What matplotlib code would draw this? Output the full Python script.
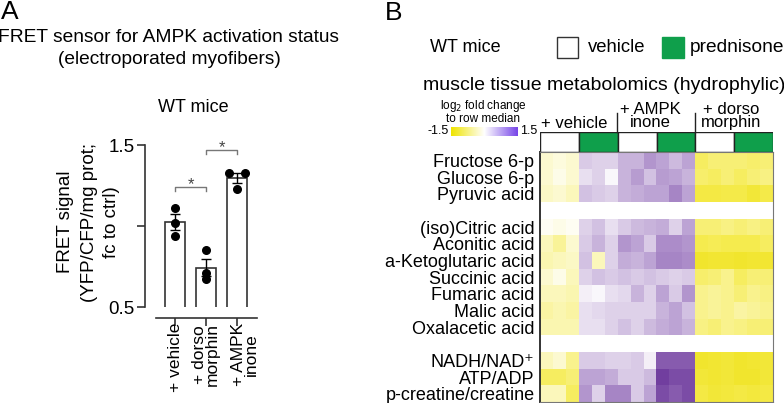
import numpy as np
import matplotlib.pyplot as plt
from matplotlib.colors import LinearSegmentedColormap
from matplotlib.patches import Rectangle
from matplotlib.lines import Line2D

plt.rcParams['font.family'] = ['Liberation Sans', 'DejaVu Sans']

W, H = 784, 403

# ---- panel A data ----
conditions = ['+ vehicle', '+ dorso\nmorphin', '+ AMPK\ninone']
fret_vehicle = [1.11, 1.02, 0.94]
fret_dorso = [0.85, 0.71, 0.67]
fret_ampk = [1.33, 1.33, 1.23]
jitter = [[0, 0, 0], [0, 0, 0], [-0.25, 0.25, 0.0]]
ylabel_lines = ['FRET signal', '(YFP/CFP/mg prot;', 'fc to ctrl)']

# ---- panel B data ----
groups = ['+ vehicle', '+ AMPK\ninone', '+ dorso\nmorphin']
treatments = ['vehicle', 'prednisone']
glyco_names = ['Fructose 6-p', 'Glucose 6-p', 'Pyruvic acid']
tca_names = ['(iso)Citric acid', 'Aconitic acid', 'a-Ketoglutaric acid', 'Succinic acid',
             'Fumaric acid', 'Malic acid', 'Oxalacetic acid']
energy_names = ['NADH/NAD\u207a', 'ATP/ADP', 'p-creatine/creatine']

glyco_vals = [
    [-0.2, -0.15, -0.2, 0.35, 0.3, 0.3, 0.5, 0.5, 0.7, 0.6, 0.45, 0.6, -0.7, -0.6, -0.6, -0.6, -0.65, -0.6],
    [-0.2, -0.1, -0.2, 0.2, 0.3, 0.05, 0.5, 0.65, 0.4, 0.65, 0.6, 0.5, -0.65, -0.7, -0.6, -0.7, -0.6, -0.55],
    [-0.25, -0.2, -0.3, 0.4, 0.35, 0.3, 0.5, 0.55, 0.6, 0.6, 0.8, 0.6, -0.9, -0.9, -0.85, -0.85, -1.0, -0.85],
]
tca_vals = [
    [-0.05, -0.1, -0.05, 0.3, 0.4, 0.2, 0.35, 0.45, 0.5, 0.55, 0.3, 0.6, -0.6, -0.6, -0.55, -0.6, -0.55, -0.6],
    [-0.3, -0.45, -0.2, 0.35, 0.5, 0.3, 0.7, 0.6, 0.35, 0.75, 0.75, 0.7, -0.8, -0.75, -0.8, -0.8, -0.8, -0.7],
    [-0.35, -0.3, -0.25, 0.4, -0.3, 0.3, 0.55, 0.5, 0.6, 0.8, 0.8, 0.75, -1.1, -1.05, -1.05, -1.1, -1.05, -1.05],
    [-0.2, -0.1, -0.3, 0.3, 0.4, 0.35, 0.4, 0.35, 0.4, 0.35, 0.3, 0.35, -0.65, -0.6, -0.5, -0.7, -0.6, -0.6],
    [-0.3, -0.3, -0.35, 0.1, 0.05, 0.2, 0.25, 0.5, 0.3, 0.6, 0.35, 0.7, -0.5, -0.45, -0.5, -0.6, -0.5, -0.55],
    [-0.4, -0.35, -0.4, 0.2, 0.25, 0.3, 0.3, 0.3, 0.3, 0.5, 0.6, 0.4, -0.5, -0.45, -0.5, -0.4, -0.45, -0.5],
    [-0.35, -0.35, -0.35, 0.2, 0.2, 0.3, 0.4, 0.3, 0.45, 0.55, 0.6, 0.5, -0.55, -0.6, -0.5, -0.55, -0.6, -0.6],
]
energy_vals = [
    [-0.3, -0.2, -0.5, 0.35, 0.35, 0.3, 0.3, 0.35, 0.1, 1.1, 1.1, 1.1, -1.1, -1.05, -1.0, -1.1, -1.05, -1.0],
    [-0.7, -0.7, -0.6, 0.6, 0.6, 0.55, 0.35, 0.35, 0.45, 1.3, 1.2, 1.2, -1.0, -1.05, -1.0, -1.1, -1.1, -1.0],
    [-0.3, -0.3, -0.7, 0.7, 0.3, 0.8, 0.8, 0.35, 0.6, 1.2, 1.1, 1.2, -0.9, -1.0, -0.95, -0.9, -0.95, -0.9],
]

green = '#0F9F4B'


def px(x0, y0, x1, y1):
    return [x0 / W, 1 - y1 / H, (x1 - x0) / W, (y1 - y0) / H]


def fx(x):
    return x / W


def fy(y):
    return 1 - y / H


fig = plt.figure(figsize=(W / 100, H / 100), dpi=100)

# ================= panel A =================
fig.text(fx(1), fy(12), 'A', fontsize=19, ha='left', va='center')
fig.text(fx(169), fy(37), 'FRET sensor for AMPK activation status', fontsize=13.8, ha='center', va='center')
fig.text(fx(169), fy(60), '(electroporated myofibers)', fontsize=13.8, ha='center', va='center')
fig.text(fx(193), fy(107), 'WT mice', fontsize=13, ha='center', va='center')

ax = fig.add_axes(px(156, 145, 257, 307))
pts = [fret_vehicle, fret_dorso, fret_ampk]
xs = np.arange(len(conditions))
means = [np.mean(p) for p in pts]
sems = [np.std(p, ddof=1) / np.sqrt(len(p)) for p in pts]
ax.bar(xs, means, width=0.65, color='white', edgecolor='#333333', linewidth=1.2, zorder=1)
ax.errorbar(xs, means, yerr=sems, fmt='none', ecolor='black', elinewidth=1,
            capsize=3.3, capthick=1, zorder=2)
for i, p in enumerate(pts):
    ax.scatter(np.array(jitter[i]) + i, p, s=30, color='black', zorder=3, clip_on=False)

ax.set_ylim(0.5, 1.5)
ax.set_xlim(-0.63, 2.65)
for s in ['top', 'right']:
    ax.spines[s].set_visible(False)
ax.spines['left'].set_position(('outward', 8))
ax.spines['bottom'].set_position(('outward', 8))
for s in ['left', 'bottom']:
    ax.spines[s].set_color('#333333')
    ax.spines[s].set_linewidth(1.2)
ax.set_yticks([0.5, 1.0, 1.5])
ax.set_yticklabels(['0.5', '', '1.5'], fontsize=13.5)
ax.set_xticks(xs)
ax.set_xticklabels([])
ax.tick_params(axis='both', length=5.5, width=1.2, color='#333333', pad=2)
ax.patch.set_alpha(0)

# rotated condition labels (the AMPK one sits slightly right of its tick)
label_dx = [0, 0, 8]
for i, lab in enumerate(conditions):
    ax.annotate(lab, xy=(xs[i], 0), xycoords=('data', 'axes fraction'),
                xytext=(label_dx[i], -16), textcoords='offset pixels',
                rotation=90, ha='center', va='top', fontsize=12.5, linespacing=0.85,
                annotation_clip=False)

# significance brackets
br_color = '#777777'
for (a, b, yb) in [(0, 1, 1.24), (1, 2, 1.47)]:
    ax.plot([a, a, b, b], [yb - 0.025, yb, yb, yb - 0.025], color=br_color, lw=1, clip_on=False)
    ax.text((a + b) / 2, yb - 0.012, '*', ha='center', va='baseline', fontsize=12, color='#444444')

for xl, line in zip([66, 89, 112], ylabel_lines):
    fig.text(fx(xl), fy(222), line, rotation=90, fontsize=13.5, ha='center', va='center')

# ================= panel B =================
fig.text(fx(385), fy(13), 'B', fontsize=19, ha='left', va='center')
fig.text(fx(430), fy(47), 'WT mice', fontsize=13, ha='left', va='center')
fig.add_artist(Rectangle((fx(557), fy(58)), 21 / W, 21 / H, transform=fig.transFigure,
                         facecolor='white', edgecolor='#333333', lw=1))
fig.text(fx(588), fy(47), treatments[0], fontsize=13.3, ha='left', va='center')
fig.add_artist(Rectangle((fx(662), fy(58)), 22 / W, 21 / H, transform=fig.transFigure,
                         facecolor=green, edgecolor=green, lw=1))
fig.text(fx(690), fy(47), treatments[1], fontsize=13.8, ha='left', va='center')
fig.text(fx(423), fy(86), 'muscle tissue metabolomics (hydrophylic)', fontsize=14,
         ha='left', va='center')

# colour scale
fig.text(fx(483), fy(106), 'log$_2$ fold change', fontsize=8.5, ha='center', va='center')
fig.text(fx(483), fy(119), 'to row median', fontsize=8.5, ha='center', va='center')
cmap = LinearSegmentedColormap.from_list(
    'yw_p', [(0, '#EDDF00'), (0.25, '#F6EC55'), (0.5, '#FFFFFF'), (0.75, '#AD8ECA'), (1, '#5C2290')])
cmap.set_bad('white')
cb_cmap = LinearSegmentedColormap.from_list('cb', ['#EFE400', '#FFFFFF', '#7746E8'])
ax_cb = fig.add_axes(px(451, 127, 518, 136))
ax_cb.imshow(np.linspace(-1.5, 1.5, 200)[None, :], cmap=cb_cmap, aspect='auto')
ax_cb.axis('off')
fig.text(fx(449), fy(131.5), '-1.5', fontsize=9, ha='right', va='center')
fig.text(fx(520), fy(131.5), '1.5', fontsize=9, ha='left', va='center')

# group labels
fig.text(fx(541), fy(123), groups[0], fontsize=12, ha='left', va='center')
fig.text(fx(650), fy(116), groups[1], fontsize=12, ha='center', va='center', linespacing=0.8)
fig.text(fx(731), fy(116), groups[2], fontsize=12, ha='center', va='center', linespacing=0.8)
for xl in [617, 695]:
    fig.add_artist(Line2D([fx(xl), fx(xl)], [fy(113), fy(132)], color='#222222', lw=1))

# treatment header
ax_hd = fig.add_axes(px(540, 132, 773, 152))
for k in range(6):
    ax_hd.add_patch(Rectangle((k, 0), 1, 1, facecolor=green if k % 2 else 'white',
                              edgecolor='#222222', lw=1))
ax_hd.set_xlim(0, 6)
ax_hd.set_ylim(0, 1)
ax_hd.axis('off')

# heatmap
blank = [np.nan] * 18
rows = glyco_vals + [blank] + tca_vals + [blank] + energy_vals
M = np.array(rows, dtype=float)
labels = glyco_names + [''] + tca_names + [''] + energy_names
ax_h = fig.add_axes(px(540, 152, 773, 402))
ax_h.imshow(np.ma.masked_invalid(M), cmap=cmap, vmin=-1.5, vmax=1.5, aspect='auto',
            interpolation='nearest')
tick_rows = [i for i, l in enumerate(labels) if l]
ax_h.set_yticks(tick_rows)
ax_h.set_yticklabels([labels[i] for i in tick_rows], fontsize=13)
ax_h.set_xticks([])
ax_h.tick_params(axis='y', length=0, pad=4)
for s in ax_h.spines.values():
    s.set_color('#777777')
    s.set_linewidth(0.8)
ax_h.spines['left'].set_color('#333333')
ax_h.spines['left'].set_linewidth(1.4)

fig.savefig('out.png', dpi=100)
